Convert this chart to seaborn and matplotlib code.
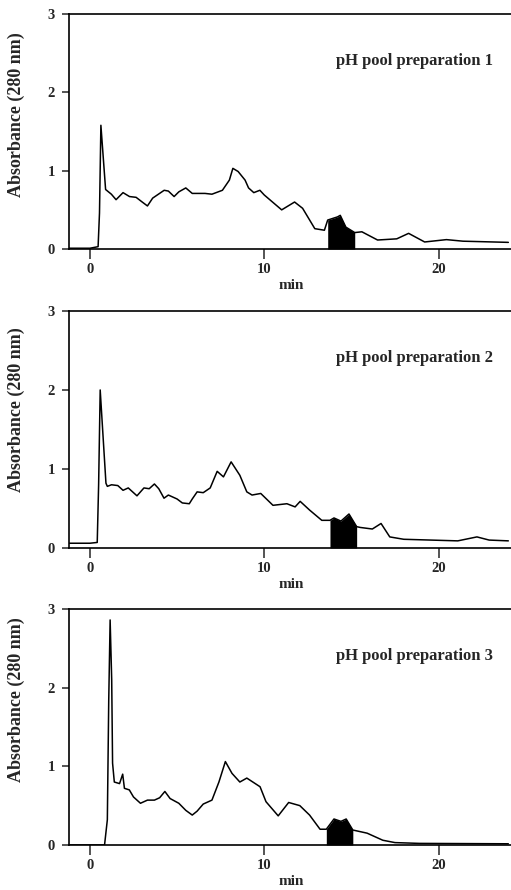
import numpy as np
import pandas as pd
import matplotlib
matplotlib.use("Agg")
import matplotlib.pyplot as plt
import seaborn as sns

# ---- data ----
t1 = [-1.2, 0.0, 0.47, 0.55, 0.63, 0.9, 1.23, 1.5, 1.9, 2.27, 2.65, 3.0, 3.3, 3.6,
      4.26, 4.5, 4.83, 5.1, 5.5, 5.87, 6.6, 7.0, 7.6, 8.0, 8.2, 8.5, 8.9, 9.1, 9.4,
      9.75, 10.0, 11.0, 11.74, 12.2, 12.9, 13.45, 13.64, 14.2, 14.36, 14.68, 15.19,
      15.6, 16.5, 17.6, 18.28, 19.2, 20.45, 21.4, 24.0]
a1 = [0.01, 0.01, 0.03, 0.46, 1.58, 0.76, 0.70, 0.63, 0.72, 0.67, 0.66, 0.60, 0.55, 0.65,
      0.75, 0.74, 0.67, 0.73, 0.78, 0.71, 0.71, 0.70, 0.75, 0.88, 1.03, 0.99, 0.88, 0.78, 0.72,
      0.75, 0.69, 0.50, 0.60, 0.52, 0.26, 0.24, 0.37, 0.41, 0.43, 0.28, 0.21,
      0.22, 0.115, 0.13, 0.20, 0.09, 0.12, 0.10, 0.085]

t2 = [-1.2, 0.0, 0.42, 0.5, 0.59, 0.92, 1.0, 1.24, 1.6, 1.9, 2.2, 2.7, 3.1, 3.4, 3.7,
      3.95, 4.25, 4.5, 5.0, 5.3, 5.7, 5.87, 6.15, 6.5, 6.9, 7.3, 7.66, 8.1, 8.6, 9.0,
      9.3, 9.8, 10.5, 11.3, 11.77, 12.06, 12.6, 13.3, 13.77, 14.0, 14.4, 14.86, 15.3,
      15.5, 16.2, 16.7, 17.2, 18.0, 21.1, 22.2, 22.9, 24.0]
a2 = [0.06, 0.06, 0.07, 0.80, 2.00, 0.82, 0.78, 0.80, 0.79, 0.73, 0.76, 0.66, 0.76, 0.75, 0.81,
      0.75, 0.63, 0.67, 0.62, 0.57, 0.56, 0.62, 0.71, 0.70, 0.76, 0.97, 0.90, 1.09, 0.92, 0.71,
      0.67, 0.69, 0.54, 0.56, 0.52, 0.59, 0.48, 0.35, 0.35, 0.38, 0.34, 0.43, 0.27,
      0.26, 0.24, 0.31, 0.14, 0.11, 0.09, 0.14, 0.10, 0.09]

t3 = [-1.2, 0.0, 0.84, 1.0, 1.08, 1.16, 1.25, 1.3, 1.4, 1.7, 1.88, 1.98, 2.26, 2.5, 2.9,
      3.3, 3.7, 4.0, 4.3, 4.6, 5.1, 5.5, 5.87, 6.15, 6.5, 7.0, 7.4, 7.77, 8.15, 8.6, 9.0,
      9.76, 10.1, 10.8, 11.4, 12.04, 12.6, 13.2, 13.56, 14.0, 14.4, 14.7, 15.08, 15.9,
      16.8, 17.5, 18.9, 24.0]
a3 = [0.0, 0.0, 0.0, 0.32, 1.84, 2.86, 2.10, 1.04, 0.80, 0.78, 0.90, 0.72, 0.70, 0.61, 0.53,
      0.57, 0.57, 0.60, 0.68, 0.59, 0.53, 0.44, 0.38, 0.43, 0.52, 0.57, 0.80, 1.06, 0.91, 0.80, 0.85,
      0.74, 0.55, 0.37, 0.54, 0.50, 0.38, 0.20, 0.20, 0.33, 0.30, 0.33, 0.19, 0.15,
      0.06, 0.03, 0.02, 0.015]

fill_ranges = [(13.64, 15.19), (13.77, 15.3), (13.56, 15.08)]
titles = ["pH pool preparation 1", "pH pool preparation 2", "pH pool preparation 3"]
x_ticks = [0, 10, 20]
y_ticks = [0, 1, 2, 3]
y_label = "Absorbance (280 nm)"
x_label = "min"

# ---- style ----
sns.set_style("ticks")
plt.rcParams["font.family"] = ["Liberation Serif", "DejaVu Serif"]
plt.rcParams["font.weight"] = "bold"

fig = plt.figure(figsize=(5.11, 8.90), dpi=100)
boxes = [[0.135, 0.7202, 0.870, 0.2640],
         [0.135, 0.3843, 0.870, 0.2663],
         [0.135, 0.0506, 0.870, 0.2652]]
ylabel_y = [0.572, 0.584, 0.614]

series = [(t1, a1), (t2, a2), (t3, a3)]
for i, ((t, a), box) in enumerate(zip(series, boxes)):
    ax = fig.add_axes(box)
    df = pd.DataFrame({"t": t, "a": a})
    sns.lineplot(data=df, x="t", y="a", ax=ax, color="black", linewidth=1.1,
                 sort=False, estimator=None)
    lo, hi = fill_ranges[i]
    sub = df[(df["t"] >= lo) & (df["t"] <= hi)]
    ax.fill_between(sub["t"], 0, sub["a"], color="black", linewidth=0)
    ax.set_xlim(-1.2, 24.3)
    ax.set_ylim(0, 3)
    ax.set_xticks(x_ticks)
    ax.set_yticks(y_ticks)
    ax.tick_params(axis="x", direction="out", length=7, width=1.1, pad=3,
                   labelsize=10.5)
    ax.tick_params(axis="y", direction="out", length=5, width=1.1, pad=5,
                   labelsize=10.5)
    for lab in ax.get_xticklabels() + ax.get_yticklabels():
        lab.set_fontweight("bold")
    for s in ["left", "bottom", "top"]:
        ax.spines[s].set_linewidth(1.2)
        ax.spines[s].set_color("black")
    ax.spines["right"].set_visible(False)
    ax.set_xlabel(x_label, fontsize=11, fontweight="bold", labelpad=2)
    ax.set_ylabel(y_label, fontsize=13, fontweight="bold")
    ax.yaxis.set_label_coords(-0.10, ylabel_y[i])
    ax.text(0.778, 0.80, titles[i], transform=ax.transAxes, ha="center",
            va="center", fontsize=12, fontweight="bold")

fig.savefig("out.png", dpi=100)
